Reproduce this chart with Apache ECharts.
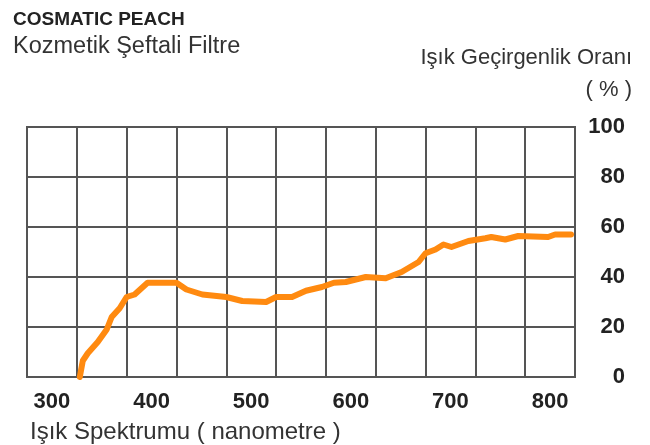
<!DOCTYPE html>
<html>
<head>
<meta charset="utf-8">
<script src="https://cdn.jsdelivr.net/npm/echarts@6/dist/echarts.min.js"></script>
<style>html,body{margin:0;padding:0;background:#fff}#c{width:650px;height:445px}</style>
</head>
<body>
<div id="c"></div>
<script>
// wavelength (nm)
var wavelengths = [328, 331, 336, 346, 355, 360, 368, 375, 383, 396, 410, 425, 435, 451, 475, 491, 515, 525, 541, 555, 571, 583, 595, 615, 635, 651, 668, 675, 685, 693, 701, 718, 735, 741, 755, 768, 798, 805, 821];
// transmission (%)
var transmission = [0, 6.5, 9.5, 14, 19, 24, 27.5, 32, 33, 37.7, 37.7, 37.7, 35, 33, 32, 30.4, 30, 32, 32, 34.5, 36, 37.7, 38, 40, 39.5, 42, 46, 49.5, 51, 53, 52, 54.4, 55.5, 56, 55, 56.4, 56, 57, 57];
var xTickLabels = [300, 400, 500, 600, 700, 800];
var yTickLabels = [0, 20, 40, 60, 80, 100];

var data = wavelengths.map(function (w, i) { return [w, transmission[i]]; });
var FONT = '"Liberation Sans", Arial, sans-serif';
var chart = echarts.init(document.getElementById('c'), null, { renderer: 'canvas' });
chart.setOption({
  animation: false,
  backgroundColor: '#fff',
  title: [
    { text: 'COSMATIC PEACH', left: 8, top: 5, textStyle: { fontFamily: FONT, fontSize: 19, fontWeight: 'bold', color: '#222' } },
    { text: 'Kozmetik Şeftali Filtre', left: 8, top: 30, textStyle: { fontFamily: FONT, fontSize: 23.5, fontWeight: 'normal', color: '#333' } },
    { text: 'Işık Geçirgenlik Oranı', right: 13, top: 42, textStyle: { fontFamily: FONT, fontSize: 22, fontWeight: 'normal', color: '#333' } },
    { text: '( % )', right: 13, top: 74, textStyle: { fontFamily: FONT, fontSize: 22, fontWeight: 'normal', color: '#333' } },
    { text: 'Işık Spektrumu ( nanometre )', left: 25, top: 415, textStyle: { fontFamily: FONT, fontSize: 24, fontWeight: 'normal', color: '#333' } }
  ],
  grid: { left: 27, right: 75, top: 127, bottom: 68, show: true, borderColor: '#555', borderWidth: 2 },
  xAxis: [
    {
      type: 'value', min: 275, max: 825, interval: 25, position: 'bottom',
      axisLine: { show: false }, axisTick: { show: false }, splitLine: { show: false },
      axisLabel: {
        margin: 14, fontFamily: FONT, fontSize: 22, fontWeight: 'bold', color: '#222',
        showMinLabel: false, showMaxLabel: false,
        formatter: function (v) { return xTickLabels.indexOf(v) >= 0 ? String(v) : ''; }
      }
    },
    {
      type: 'value', min: 0, max: 550, interval: 50, position: 'bottom',
      axisLine: { show: false }, axisTick: { show: false }, axisLabel: { show: false },
      splitLine: { show: true, lineStyle: { color: '#555', width: 2 } }
    }
  ],
  yAxis: {
    type: 'value', min: 0, max: 100, interval: 20, position: 'right',
    axisLine: { show: false }, axisTick: { show: false },
    splitLine: { show: true, lineStyle: { color: '#555', width: 2 } },
    axisLabel: {
      margin: 50, align: 'right', fontFamily: FONT, fontSize: 22, fontWeight: 'bold', color: '#222',
      formatter: function (v) { return yTickLabels.indexOf(v) >= 0 ? String(v) : ''; }
    }
  },
  series: [{
    type: 'line', xAxisIndex: 0, data: data, showSymbol: false, smooth: false,
    lineStyle: { color: '#FF8A10', width: 6, cap: 'round', join: 'round' }
  }]
});
</script>
</body>
</html>
